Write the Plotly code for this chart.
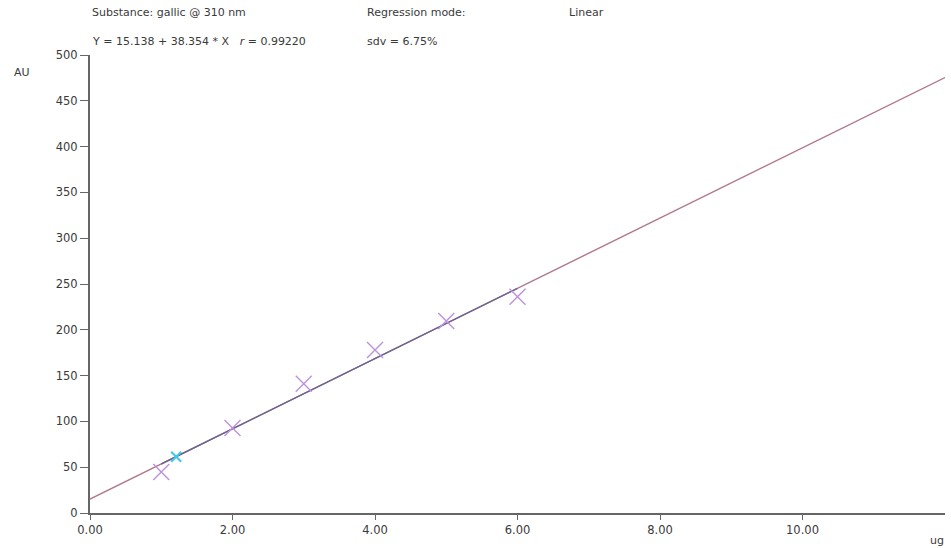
import plotly.graph_objects as go

# Calibration standards (amount in ug, response in AU)
std_amount = [1.0, 2.0, 3.0, 4.0, 5.0, 6.0]
std_response = [44.7, 92.8, 141.0, 178.0, 209.6, 236.0]

# Sample spot lying on the calibration line
sample_amount = [1.21]
sample_response = [61.5]

# Regression parameters
intercept = 15.138
slope = 38.354
r_value = 0.99220
sdv = 6.75

x_full = [0.0, 12.0]
x_range_fit = [1.0, 6.0]

x_ticks = [0, 2, 4, 6, 8, 10]
x_ticktext = ["0.00", "2.00", "4.00", "6.00", "8.00", "10.00"]
y_ticks = [0, 50, 100, 150, 200, 250, 300, 350, 400, 450, 500]

W, H = 951, 548
L, R, T, B = 90, 6, 55, 35

fig = go.Figure()

# Extended regression line
fig.add_trace(go.Scatter(
    x=x_full, y=[intercept + slope * v for v in x_full],
    mode="lines", line=dict(color="#b07888", width=1.4),
    hoverinfo="skip", showlegend=False))

# Regression line over the calibrated range
fig.add_trace(go.Scatter(
    x=x_range_fit, y=[intercept + slope * v for v in x_range_fit],
    mode="lines", line=dict(color="#6a6490", width=1.4),
    hoverinfo="skip", showlegend=False))

# Standards
fig.add_trace(go.Scatter(
    x=std_amount, y=std_response, mode="markers",
    marker=dict(symbol="x-thin", size=16, line=dict(color="#bb90dd", width=1.4)),
    showlegend=False))

# Sample
fig.add_trace(go.Scatter(
    x=sample_amount, y=sample_response, mode="markers",
    marker=dict(symbol="x-thin", size=10, line=dict(color="#40c8e8", width=2)),
    showlegend=False))

font = dict(family="DejaVu Sans, sans-serif", size=11, color="#3a3a3a")
tick_font = dict(family="DejaVu Sans, sans-serif", size=11.5, color="#3a3a3a")


def px_x(p):
    return (p - L) / (W - L - R)


def px_y(p):
    return (H - B - p) / (H - T - B)


annots = [
    ("Substance: gallic @ 310 nm", 90, 13, "left"),
    ("Regression mode:", 365, 13, "left"),
    ("Linear", 567, 13, "left"),
    (f"Y = {intercept:.3f} + {slope:.3f} * X   <i>r</i> = {r_value:.5f}", 90, 41, "left"),
    (f"sdv = {sdv:.2f}%", 365, 41, "left"),
    ("AU", 12, 72, "left"),
    ("ug", 946, 540, "right"),
]
annotations = [
    dict(text=t, x=px_x(x), y=px_y(y), xref="paper", yref="paper",
         xanchor=a, yanchor="middle", showarrow=False, font=font)
    for t, x, y, a in annots
]

fig.update_layout(
    width=W, height=H,
    margin=dict(l=L, r=R, t=T, b=B),
    paper_bgcolor="white", plot_bgcolor="white",
    annotations=annotations,
    xaxis=dict(range=[0, 12], tickvals=x_ticks, ticktext=x_ticktext,
               showgrid=False, zeroline=False, showline=True,
               linecolor="#666666", linewidth=2, ticks="outside",
               ticklen=5, tickcolor="#666666", tickwidth=1,
               tickfont=tick_font),
    yaxis=dict(range=[0, 500], tickvals=y_ticks,
               showgrid=False, zeroline=False, showline=True,
               linecolor="#666666", linewidth=2, ticks="outside",
               ticklen=8, tickcolor="#666666", tickwidth=1,
               tickfont=tick_font),
)

fig.write_html("out.html")
